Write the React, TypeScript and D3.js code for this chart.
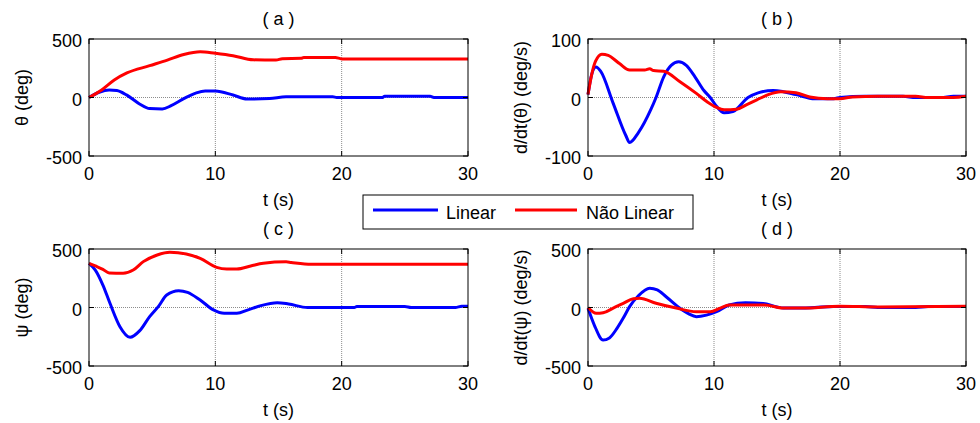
import React from 'react';
import * as d3 from 'd3';

// [t, value] samples
const thetaLinear: [number, number][] = [
  [0, 0], [0.8, 45], [1.6, 65], [2.2, 60], [3, 20], [4, -55], [4.8, -95], [5.8, -98], [6.5, -70],
  [7.5, -10], [8.5, 40], [9.2, 55], [10, 55], [11.4, 21], [12.5, -13], [14.3, -8], [15.6, 6],
  [19.3, 6], [19.6, 0], [23.2, 0], [23.4, 10], [27, 10], [27.3, 0], [30, 0],
];
const thetaNaoLinear: [number, number][] = [
  [0, 0], [1, 65], [2, 150], [3, 210], [4.8, 272], [6.2, 320], [7.5, 368], [8.8, 392], [10, 378],
  [11.4, 357], [13, 322], [14.8, 320], [15.3, 332], [16.8, 335], [17, 342], [19.5, 342], [20, 330], [30, 330],
];
const dthetaLinear: [number, number][] = [
  [0, 5], [0.3, 40], [0.63, 52], [1, 45], [2, -10], [3, -65], [3.3, -77], [4, -60], [5, -20],
  [5.4, 0], [6, 35], [6.6, 55], [7.2, 61], [7.8, 55], [8.5, 35], [9.2, 12], [9.7, 0], [10.2, -15],
  [10.8, -26], [11.5, -24], [12.7, 0], [13.5, 8], [14.7, 12], [15.5, 10], [16.5, 5], [18, -2],
  [19.5, -2], [20, 0], [22, 2], [25, 2], [26, 0], [28, 0], [29, 2], [30, 2],
];
const dthetaNaoLinear: [number, number][] = [
  [0, 5], [0.3, 40], [0.6, 62], [1.1, 74], [1.6, 72], [2.5, 58], [3.3, 47], [4.5, 47], [4.9, 49],
  [5.2, 46], [6, 45], [7.3, 27], [8.6, 7], [9.5, -8], [10.2, -17], [10.8, -21], [11.8, -20],
  [12.6, -12], [13.4, -4], [14.3, 5], [15.3, 10], [16.5, 8], [17.6, 1], [19, -2], [20, -2],
  [21, 1], [23, 2], [26, 2], [27, 0], [29, 0], [30, 2],
];
const psiLinear: [number, number][] = [
  [0, 378], [0.5, 320], [1.1, 192], [1.66, 36], [2.45, -164], [3.25, -255], [4, -200], [4.8, -78],
  [5.5, 10], [6.15, 107], [7.1, 144], [7.8, 130], [8.8, 64], [9.85, -21], [10.7, -50], [11.7, -50],
  [12.6, -20], [13.6, 16], [14.9, 41], [15.8, 30], [17.3, 0], [21, 0], [21.2, 8], [25, 8],
  [25.5, 0], [29, 0], [29.5, 10], [30, 10],
];
const psiNaoLinear: [number, number][] = [
  [0, 378], [0.5, 355], [1.1, 326], [1.6, 295], [2.7, 292], [3.5, 320], [4.3, 392], [5.4, 449],
  [6.4, 472], [7.7, 458], [8.8, 420], [10.1, 343], [10.9, 329], [11.7, 329], [12.8, 355],
  [13.8, 378], [15.6, 390], [16, 385], [17.6, 370], [30, 370],
];
const dpsiLinear: [number, number][] = [
  [0, -7], [0.5, -150], [1.2, -278], [1.7, -260], [2.3, -178], [2.8, -90], [3.3, 7], [4, 100],
  [4.9, 164], [5.5, 150], [6.2, 92], [7.3, -7], [8, -55], [8.6, -78], [9.4, -65], [10.2, -36],
  [11.2, 21], [12.5, 41], [13.9, 35], [15, 5], [15.5, -5], [17, -5], [18, 0], [19.5, 8], [22, 8],
  [23, 0], [26, 0], [27, 8], [30, 8],
];
const dpsiNaoLinear: [number, number][] = [
  [0, 0], [0.66, -50], [1.2, -45], [2, -5], [2.8, 36], [3.6, 75], [4.1, 79], [5.4, 36], [7, -5],
  [8.6, -36], [9.7, -36], [10.5, -5], [11.2, 21], [12.3, 21], [14, 21], [15.5, -5], [17, -5],
  [20, 10], [23, 5], [30, 10],
];

const xTicks = [0, 10, 20, 30];
const yTicksDeg = [-500, 0, 500];
const yTicksRate = [-100, 0, 100];
const panelTitles = ['( a )', '( b )', '( c )', '( d )'];
const yLabels = ['θ (deg)', 'd/dt(θ) (deg/s)', 'ψ (deg)', 'd/dt(ψ) (deg/s)'];
const legendLabels = ['Linear', 'Não Linear'];
const colors = ['#0000ff', '#ff0000'];

const font = 'Arial, "Liberation Sans", sans-serif';

const panels = [
  { x0: 89, x1: 468, y0: 39, y1: 156, yTicks: yTicksDeg, series: [thetaLinear, thetaNaoLinear] },
  { x0: 588, x1: 966, y0: 39, y1: 156, yTicks: yTicksRate, series: [dthetaLinear, dthetaNaoLinear] },
  { x0: 89, x1: 468, y0: 249, y1: 366, yTicks: yTicksDeg, series: [psiLinear, psiNaoLinear] },
  { x0: 588, x1: 966, y0: 249, y1: 366, yTicks: yTicksDeg, series: [dpsiLinear, dpsiNaoLinear] },
];

function Panel({ p, i }: { p: typeof panels[0]; i: number }) {
  const x = d3.scaleLinear().domain([0, 30]).range([p.x0, p.x1]);
  const yt = p.yTicks;
  const y = d3.scaleLinear().domain([yt[0], yt[yt.length - 1]]).range([p.y1, p.y0]);
  const line = d3.line<[number, number]>().x(d => x(d[0])).y(d => y(d[1])).curve(d3.curveMonotoneX);
  const tl = 5;
  return (
    <g>
      {/* grid */}
      {xTicks.slice(1, -1).map(t => (
        <line key={'gx' + t} x1={x(t)} x2={x(t)} y1={p.y0} y2={p.y1} stroke="#8c8c8c" strokeWidth={1} strokeDasharray="1,1" />
      ))}
      {yt.slice(1, -1).map(t => (
        <line key={'gy' + t} x1={p.x0} x2={p.x1} y1={y(t)} y2={y(t)} stroke="#8c8c8c" strokeWidth={1} strokeDasharray="1,1" />
      ))}
      {p.series.map((s, k) => (
        <path key={k} d={line(s) || ''} fill="none" stroke={colors[k]} strokeWidth={3} strokeLinejoin="round" />
      ))}
      <rect x={p.x0} y={p.y0} width={p.x1 - p.x0} height={p.y1 - p.y0} fill="none" stroke="#000" strokeWidth={1} />
      {xTicks.map(t => (
        <g key={'xt' + t}>
          <line x1={x(t)} x2={x(t)} y1={p.y1} y2={p.y1 - tl} stroke="#000" />
          <line x1={x(t)} x2={x(t)} y1={p.y0} y2={p.y0 + tl} stroke="#000" />
          <text x={x(t)} y={p.y1 + 24} textAnchor="middle" fontSize={18} fontFamily={font}>{t}</text>
        </g>
      ))}
      {yt.map(t => (
        <g key={'yt' + t}>
          <line x1={p.x0} x2={p.x0 + tl} y1={y(t)} y2={y(t)} stroke="#000" />
          <line x1={p.x1} x2={p.x1 - tl} y1={y(t)} y2={y(t)} stroke="#000" />
          <text x={p.x0 - 7} y={y(t) + 8} textAnchor="end" fontSize={18} fontFamily={font}>{t}</text>
        </g>
      ))}
      <text x={(p.x0 + p.x1) / 2} y={p.y0 - 14} textAnchor="middle" fontSize={18} fontFamily={font}>{panelTitles[i]}</text>
      <text x={(p.x0 + p.x1) / 2} y={p.y1 + 50} textAnchor="middle" fontSize={18} fontFamily={font}>t (s)</text>
      <text
        transform={`translate(${p.x0 - 61},${(p.y0 + p.y1) / 2}) rotate(-90)`}
        textAnchor="middle" fontSize={18} fontFamily={font}
      >{yLabels[i]}</text>
    </g>
  );
}

export default function App() {
  return (
    <svg width={980} height={423} style={{ position: 'absolute', left: 0, top: 0, background: '#fff' }}>
      <rect width={980} height={423} fill="#fff" />
      {panels.map((p, i) => <Panel key={i} p={p} i={i} />)}
      <g>
        <rect x={363} y={195} width={330} height={34} fill="#fff" stroke="#000" strokeWidth={1} />
        <line x1={373} x2={438} y1={210} y2={210} stroke={colors[0]} strokeWidth={3} />
        <text x={446} y={219} fontSize={18} fontFamily={font}>{legendLabels[0]}</text>
        <line x1={515} x2={577} y1={210} y2={210} stroke={colors[1]} strokeWidth={3} />
        <text x={586} y={219} fontSize={18} fontFamily={font}>{legendLabels[1]}</text>
      </g>
    </svg>
  );
}
